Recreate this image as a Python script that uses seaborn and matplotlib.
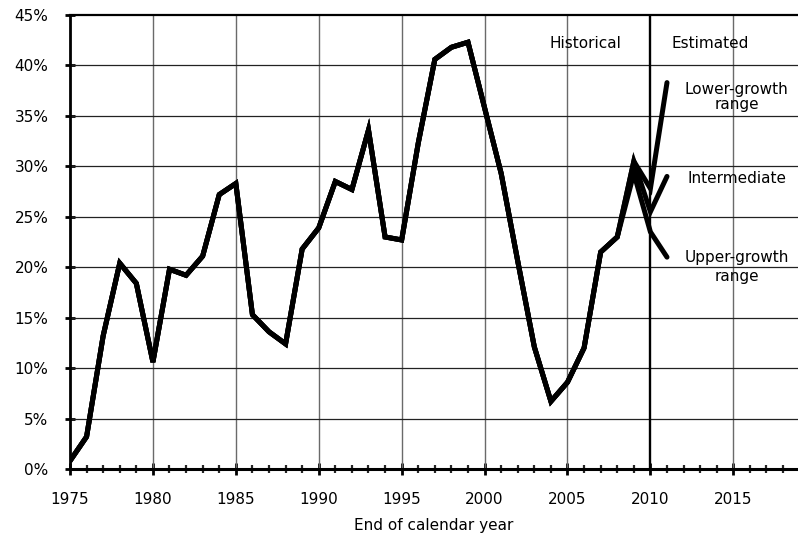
import matplotlib.pyplot as plt
import matplotlib.ticker as mticker
import pandas as pd
import seaborn as sns

# historical values (percent), end of calendar year
hist_years = list(range(1975, 2009))
hist_values = [0.8, 3.2, 13.2, 20.4, 18.4, 10.6, 19.8, 19.2, 21.1, 27.2,
               28.3, 15.3, 13.6, 12.4, 21.8, 23.9, 28.5, 27.7, 33.6, 23.0,
               22.7, 32.3, 40.6, 41.8, 42.3, 35.8, 29.3, 20.6, 12.1, 6.7,
               8.6, 12.0, 21.5, 23.0]

# estimated branches
est_years = [2009, 2010, 2011]
lower_growth = [30.5, 27.8, 38.3]
intermediate = [30.5, 25.5, 29.0]
upper_growth = [29.3, 23.5, 21.0]

scenario_names = ["Lower-growth\nrange", "Intermediate", "Upper-growth\nrange"]
scenario_values = [lower_growth, intermediate, upper_growth]
label_y = [36.9, 28.8, 20.0]
label_spacing = [1.0, 1.0, 1.3]

rows = []
for name, vals in zip(scenario_names, scenario_values):
    for yr, v in zip(hist_years + est_years, hist_values + vals):
        rows.append({"year": yr, "value": v, "scenario": name})
df = pd.DataFrame(rows)

sns.set_style("white")
plt.rcParams["font.family"] = ["DejaVu Sans"]
plt.rcParams["text.color"] = "black"
plt.rcParams["axes.labelcolor"] = "black"

fig = plt.figure(figsize=(7.98, 5.42), dpi=100)
ax = fig.add_axes([70 / 798, 1 - 469 / 542, 1 - 70 / 798, (469 - 15) / 542])

sns.lineplot(
    data=df,
    x="year",
    y="value",
    hue="scenario",
    palette=["black"] * 3,
    estimator=None,
    linewidth=3.6,
    legend=False,
    ax=ax,
    zorder=5,
)
for line in ax.get_lines():
    line.set_solid_joinstyle("miter")

ax.set_xlim(1975, 2018.9)
ax.set_ylim(0, 45)

ax.xaxis.set_major_locator(mticker.MultipleLocator(5))
ax.xaxis.set_minor_locator(mticker.MultipleLocator(1))
ax.yaxis.set_major_locator(mticker.MultipleLocator(5))
ax.yaxis.set_major_formatter(mticker.FuncFormatter(lambda v, p: f"{v:.0f}%"))

for x in range(1980, 2019, 5):
    if x != 2010:
        ax.axvline(x, color="#6a6a6a", linewidth=1.0, zorder=1)
for y in range(5, 45, 5):
    ax.axhline(y, color="#222222", linewidth=0.9, zorder=1)
ax.axvline(2010, color="black", linewidth=1.7, zorder=3)

for side in ["left", "bottom", "top"]:
    ax.spines[side].set_color("black")
ax.spines["left"].set_linewidth(2.0)
ax.spines["bottom"].set_linewidth(2.2)
ax.spines["top"].set_linewidth(1.6)
ax.spines["right"].set_visible(False)

ax.tick_params(axis="x", which="major", direction="inout", length=9, width=2,
               pad=12, labelsize=11, colors="black")
ax.tick_params(axis="x", which="minor", direction="inout", length=6, width=1.6)
ax.tick_params(axis="y", which="major", direction="inout", length=7, width=2,
               pad=12, labelsize=11, colors="black")
ax.tick_params(left=True, bottom=True, which="both")

ax.set_xlabel("End of calendar year", fontsize=11, labelpad=8)
ax.set_ylabel("")

ax.text(2006.1, 42.2, "Historical", ha="center", va="center", fontsize=11)
ax.text(2013.6, 42.2, "Estimated", ha="center", va="center", fontsize=11)
for name, y, ls in zip(scenario_names, label_y, label_spacing):
    ax.text(2015.2, y, name, ha="center", va="center", fontsize=11,
            linespacing=ls)

fig.savefig("out.png", dpi=100)
